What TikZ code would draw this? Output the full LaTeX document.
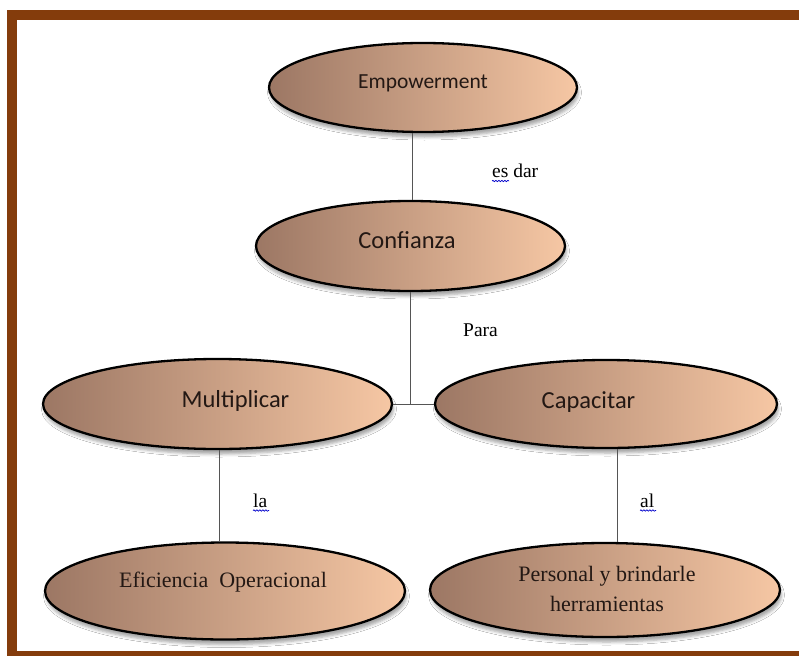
\documentclass[tikz,border=0pt]{standalone}
\usepackage{fontspec}
\setmainfont{Liberation Serif}
\newfontfamily\calib{Carlito}
\usetikzlibrary{shapes.geometric,shadows.blur,decorations.pathmorphing}

\definecolor{framebrown}{HTML}{843C0C}
\definecolor{ovaldark}{HTML}{9C7764}
\definecolor{ovallight}{HTML}{F6C7A4}
\definecolor{linkgray}{HTML}{555555}
\definecolor{inkdark}{HTML}{231814}

\tikzset{
  oval/.style={ellipse, draw=black, line width=2.3pt, inner sep=0pt,
    left color=ovaldark, right color=ovallight,
    blur shadow={shadow xshift=1.5pt, shadow yshift=-5pt,
      shadow blur radius=3pt, shadow opacity=35}},
  ovaltext/.style={anchor=base, text=inkdark, inner sep=0pt,
    font=\calib\fontsize{24.5}{28}\selectfont},
  ovalserif/.style={text=inkdark, inner sep=0pt, align=center,
    font=\fontsize{22}{30}\selectfont},
  link/.style={draw=linkgray, line width=1pt},
  linklabel/.style={anchor=base west, inner sep=0pt, text=black,
    font=\fontsize{19.5}{22}\selectfont},
  squiggle/.style={draw=blue!80!black, line width=0.7pt, decorate,
    decoration={snake, amplitude=0.7pt, segment length=3pt}}
}

\begin{document}
\begin{tikzpicture}[x=1pt, y=-1pt]
  \useasboundingbox (0,0) rectangle (799,655);
  \clip (0,0) rectangle (799,655);
  \fill[white] (0,0) rectangle (799,655);

  % page frame
  \draw[framebrown, line width=10pt] (12,15) rectangle (830,656);

  % concept ovals
  \node[oval, minimum width=308pt, minimum height=89pt] (emp) at (423,87.5) {};
  \node[oval, minimum width=309pt, minimum height=90pt] (conf) at (410.5,246) {};
  \node[oval, minimum width=349pt, minimum height=90pt] (mult) at (217.5,404) {};
  \node[oval, minimum width=342pt, minimum height=88pt] (cap) at (606,404) {};
  \node[oval, minimum width=360pt, minimum height=97pt] (efi) at (225,591) {};
  \node[oval, minimum width=350pt, minimum height=94pt] (pers) at (605,590) {};

  % oval captions
  \node[ovaltext, font=\calib\fontsize{21.5}{24}\selectfont] (empt) at (423,89) {Empowerment};
  \node[ovaltext] (conft) at (407,248) {Confianza};
  \node[ovaltext] (multt) at (235.5,407) {Multiplicar};
  \node[ovaltext] (capt) at (588.5,408) {Capacitar};
  \node[ovalserif, anchor=base] (efit) at (223,587) {Eficiencia\ \ Operacional};
  \node[ovalserif] (perst) at (607,588.5) {Personal y brindarle\\herramientas};

  % connectors
  \coordinate (embot) at ([xshift=-11pt]emp.south);
  \draw[link] (embot) -- (embot |- conf.north);
  \coordinate (junc) at (conf.south |- mult.east);
  \draw[link] (conf.south) -- (junc);
  \draw[link] (mult.east) -- (cap.west);
  \coordinate (mbot) at ([xshift=2pt]mult.south);
  \draw[link] (mbot) -- (mbot |- efi.north);
  \coordinate (cbot) at ([xshift=11pt]cap.south);
  \draw[link] (cbot) -- (cbot |- pers.north);

  % connector labels
  \node[linklabel] (lbl1) at (492,177.5) {es dar};
  \node[linklabel] (lbl2) at (463,336) {Para};
  \node[linklabel] (lbl3) at (253,507) {la};
  \node[linklabel] (lbl4) at (640,507) {al};

  % spell-check squiggles
  \draw[squiggle] ([yshift=-3.5pt]lbl1.base west) -- ++(17,0);
  \draw[squiggle] ([yshift=-3.5pt]lbl3.base west) -- ++(16,0);
  \draw[squiggle] ([yshift=-3.5pt]lbl4.base west) -- ++(16,0);
\end{tikzpicture}
\end{document}
